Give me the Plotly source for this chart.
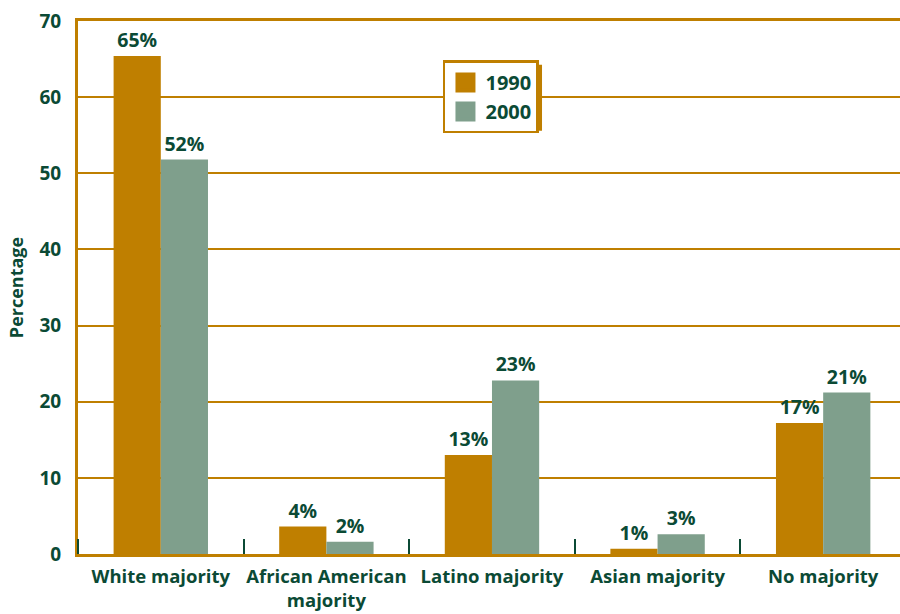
import plotly.graph_objects as go

categories = ["White majority", "African American<br>majority", "Latino majority", "Asian majority", "No majority"]
years = ["1990", "2000"]
values_1990 = [65.4, 3.6, 13.0, 0.7, 17.2]
values_2000 = [51.8, 1.6, 22.8, 2.6, 21.2]
y_ticks = [0, 10, 20, 30, 40, 50, 60, 70]

GOLD = "#bf7f00"
SAGE = "#7f9f8c"
GREEN = "#0b4a35"
FONT = "Open Sans"

xpos = list(range(len(categories)))

fig = go.Figure()
for name, vals, col in [(years[0], values_1990, GOLD), (years[1], values_2000, SAGE)]:
    fig.add_trace(go.Bar(
        x=xpos, y=vals, name=name, marker=dict(color=col, line=dict(width=0)),
        texttemplate="%{y:.0f}%", textposition="outside", cliponaxis=False,
        textfont=dict(family=FONT, size=19.5, color=GREEN, weight="bold"),
        showlegend=False,
    ))
    fig.add_trace(go.Scatter(
        x=[None], y=[None], mode="markers", name=name,
        marker=dict(symbol="square", size=16, color=col, line=dict(color=col, width=4)),
    ))

fig.update_layout(
    width=900, height=614,
    margin=dict(l=78, r=0, t=21, b=60),
    paper_bgcolor="white", plot_bgcolor="white",
    barmode="group", bargap=0.43, bargroupgap=0,
    font=dict(family=FONT, color=GREEN),
    legend=dict(
        x=0.444, y=0.926, xanchor="left", yanchor="top",
        bgcolor="white", bordercolor=GOLD, borderwidth=2.5,
        font=dict(family=FONT, size=20, color=GREEN, weight="bold"),
        itemwidth=30,
    ),
    xaxis=dict(
        range=[-0.5, 4.464], tickvals=xpos, ticktext=categories,
        ticks="", showgrid=False, zeroline=False,
        showline=True, linecolor=GOLD, linewidth=3, mirror=True,
        ticklabelstandoff=4,
        tickfont=dict(family=FONT, size=18.5, color=GREEN, weight="bold"),
        minor=dict(tick0=0.5, dtick=1, ticks="inside", ticklen=15, tickcolor=GREEN, tickwidth=1.5, showgrid=False),
    ),
    yaxis=dict(
        range=[0, 70], tickvals=y_ticks, showgrid=True, gridcolor=GOLD, gridwidth=1.5,
        zeroline=False, showline=True, linecolor=GOLD, linewidth=3, mirror=False,
        ticks="", ticklabelstandoff=10,
        tickfont=dict(family=FONT, size=19, color=GREEN, weight="bold"),
        title=dict(text="Percentage", font=dict(family=FONT, size=18, color=GREEN, weight="bold"), standoff=12),
    ),
)
# legend drop shadow
fig.add_shape(type="rect", xref="paper", yref="paper", layer="above",
              x0=0.450, x1=0.5645, y0=0.794, y1=0.918, fillcolor=GOLD, line=dict(width=0))

fig.write_html("out.html")
